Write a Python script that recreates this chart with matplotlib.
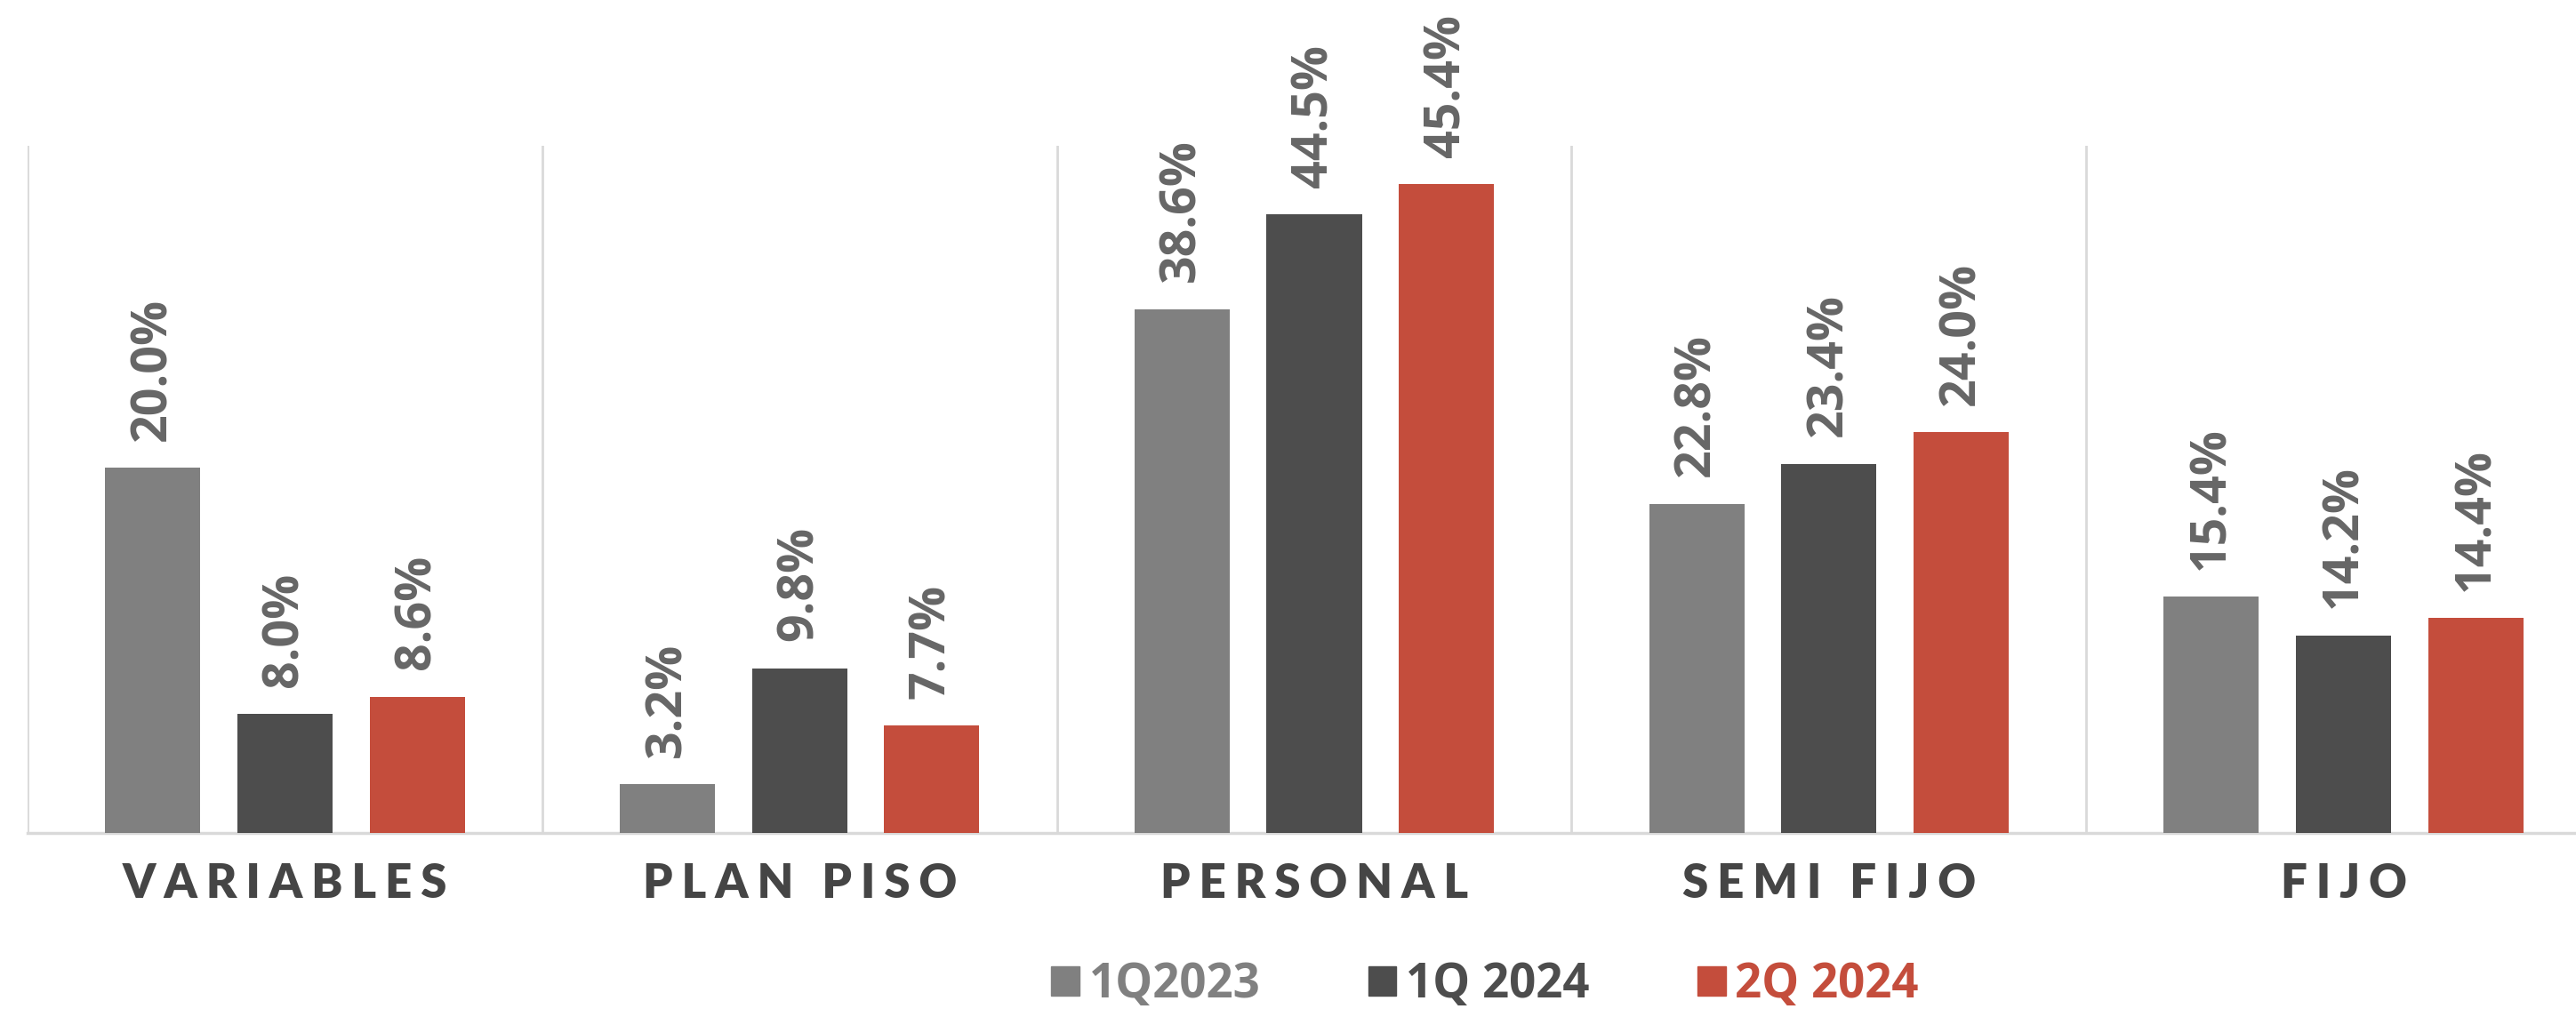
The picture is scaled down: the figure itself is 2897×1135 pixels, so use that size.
import numpy as np
import matplotlib.pyplot as plt
from matplotlib.patches import Patch

# categories and series
categories = ['VARIABLES', 'PLAN PISO', 'PERSONAL', 'SEMI FIJO', 'FIJO']
series = ['1Q2023', '1Q 2024', '2Q 2024']
colors = ['#808080', '#4d4d4d', '#c44d3c']

# bar heights as drawn in the picture (in %)
h_1q2023 = [25.5, 3.4, 36.6, 23.0, 16.5]
h_1q2024 = [8.3, 11.5, 43.2, 25.8, 13.8]
h_2q2024 = [9.5, 7.5, 45.3, 28.0, 15.0]

# printed data labels
lab_1q2023 = ['20.0%', '3.2%', '38.6%', '22.8%', '15.4%']
lab_1q2024 = ['8.0%', '9.8%', '44.5%', '23.4%', '14.2%']
lab_2q2024 = ['8.6%', '7.7%', '45.4%', '24.0%', '14.4%']

heights = [h_1q2023, h_1q2024, h_2q2024]
labels = [lab_1q2023, lab_1q2024, lab_2q2024]

fig = plt.figure(figsize=(28.97, 11.35), dpi=100)
ax = fig.add_axes([31 / 2897, 198 / 1135, 2894 / 2897, 773 / 1135])

x = np.arange(len(categories))
width = 0.185
offsets = [-0.257, 0, 0.257]

for i in range(3):
    bars = ax.bar(x + offsets[i], heights[i], width, color=colors[i], zorder=3)
    for b, lab in zip(bars, labels[i]):
        ax.annotate(lab, (b.get_x() + b.get_width() / 2, b.get_height()),
                    xytext=(0, 22), textcoords='offset points',
                    rotation=90, ha='center', va='bottom',
                    fontsize=40, fontweight='bold', color='#666666',
                    family=['Open Sans', 'DejaVu Sans'])

ax.set_xlim(-0.5, 4.5)
ax.set_ylim(0, 48)

# vertical separators between groups
ax.set_xticks(np.arange(-0.5, 4.6, 1), minor=True)
ax.grid(axis='x', which='minor', color='#d9d9d9', linewidth=2, zorder=0)
ax.tick_params(axis='x', which='both', length=0)
ax.set_yticks([])

# letter-spaced category names
gap = '\u2009\u200a'
spaced = [gap.join(c) for c in categories]
ax.set_xticks(x)
ax.set_xticklabels(spaced, fontsize=38, fontweight='heavy', color='#454545',
                   family=['Lato', 'DejaVu Sans'])
ax.tick_params(axis='x', which='major', pad=24)

for s in ['top', 'left', 'right']:
    ax.spines[s].set_visible(False)
ax.spines['bottom'].set_color('#d9d9d9')
ax.spines['bottom'].set_linewidth(2.5)

handles = [Patch(color=c) for c in colors]
leg = fig.legend(handles, series, loc='center', ncol=3,
                 bbox_to_anchor=(1670 / 2897, 1 - 1108 / 1135),
                 frameon=False, handlelength=0.6, handleheight=0.6,
                 handletextpad=0.2, columnspacing=2.3,
                 prop={'family': ['Open Sans', 'DejaVu Sans'], 'weight': 'bold', 'size': 38})
for t, c in zip(leg.get_texts(), colors):
    t.set_color(c)

fig.savefig('out.png', dpi=100)
